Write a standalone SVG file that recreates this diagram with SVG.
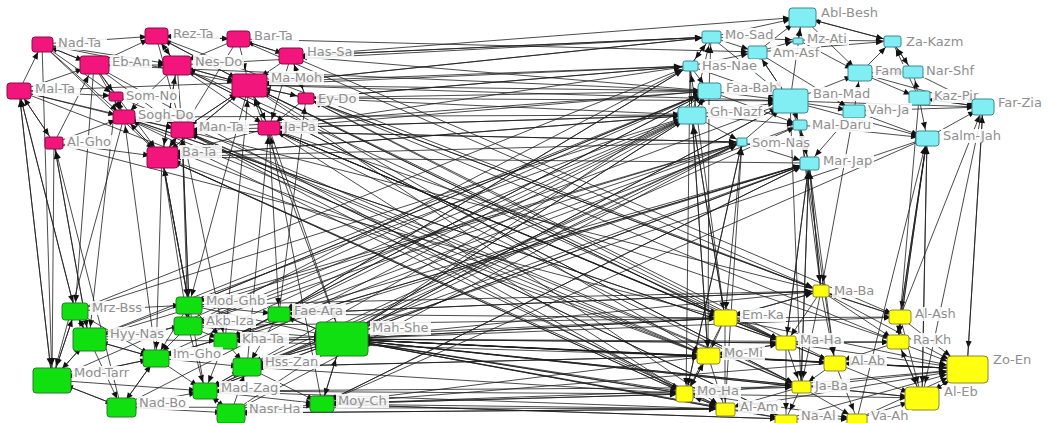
<svg xmlns="http://www.w3.org/2000/svg" width="1051" height="423" viewBox="0 0 1051 423">
<style>
.e line{stroke:#1e1e1e;stroke-width:0.8;fill:none}
.T{marker-end:url(#mT)}.S{marker-end:url(#mS)}.M{marker-end:url(#mM)}.B{marker-end:url(#mB)}.H{marker-end:url(#mH)}
.lb{fill:#fff;fill-opacity:0.88}
.lt{font-family:"DejaVu Sans",Verdana,sans-serif;font-size:13px;fill:#8f8f8f}
.pk{fill:#f2157c;stroke:#8c0c45;stroke-width:1}
.cy{fill:#80eef2;stroke:#3a8890;stroke-width:1}
.gr{fill:#10e010;stroke:#2a7a2a;stroke-width:1}
.ye{fill:#ffff10;stroke:#8a8a2a;stroke-width:1}
</style>
<defs>
<marker id="mT" markerUnits="userSpaceOnUse" markerWidth="7" markerHeight="6" refX="13" refY="3" orient="auto" overflow="visible"><path d="M0,0 L7,3 L0,6 z" fill="#111"/></marker>
<marker id="mS" markerUnits="userSpaceOnUse" markerWidth="7" markerHeight="6" refX="16" refY="3" orient="auto" overflow="visible"><path d="M0,0 L7,3 L0,6 z" fill="#111"/></marker>
<marker id="mM" markerUnits="userSpaceOnUse" markerWidth="7" markerHeight="6" refX="19" refY="3" orient="auto" overflow="visible"><path d="M0,0 L7,3 L0,6 z" fill="#111"/></marker>
<marker id="mB" markerUnits="userSpaceOnUse" markerWidth="7" markerHeight="6" refX="22" refY="3" orient="auto" overflow="visible"><path d="M0,0 L7,3 L0,6 z" fill="#111"/></marker>
<marker id="mH" markerUnits="userSpaceOnUse" markerWidth="7" markerHeight="6" refX="28" refY="3" orient="auto" overflow="visible"><path d="M0,0 L7,3 L0,6 z" fill="#111"/></marker>
</defs>
<rect width="1051" height="423" fill="#fff"/>
<g id="connectors" class="e">
<g class="T">
<line x1="42" y1="44" x2="116" y2="96"/><line x1="19" y1="91" x2="116" y2="96"/><line x1="94" y1="65" x2="116" y2="96"/><line x1="124" y1="117" x2="116" y2="96"/>
<line x1="757" y1="52" x2="798" y2="40"/><line x1="711" y1="37" x2="798" y2="40"/>
<line x1="790" y1="101" x2="800" y2="125"/><line x1="709" y1="91" x2="800" y2="125"/><line x1="692" y1="115" x2="800" y2="125"/>
<line x1="692" y1="115" x2="742" y2="142"/><line x1="182" y1="130" x2="742" y2="142"/><line x1="162" y1="157" x2="742" y2="142"/>
<line x1="342" y1="339" x2="742" y2="142"/><line x1="247" y1="367" x2="742" y2="142"/><line x1="231" y1="413" x2="742" y2="142"/>
<line x1="686" y1="394" x2="742" y2="142"/><line x1="725" y1="409" x2="742" y2="142"/><line x1="205" y1="391" x2="800" y2="125"/><line x1="835" y1="363" x2="800" y2="125"/>
<line x1="89" y1="339" x2="742" y2="142"/><line x1="189" y1="305" x2="742" y2="142"/>
</g>
<g class="M">
<line x1="42" y1="44" x2="94" y2="65"/><line x1="19" y1="91" x2="94" y2="65"/><line x1="54" y1="143" x2="94" y2="65"/>
<line x1="42" y1="44" x2="177" y2="65"/><line x1="94" y1="65" x2="177" y2="65"/><line x1="156" y1="36" x2="177" y2="65"/><line x1="238" y1="39" x2="177" y2="65"/><line x1="249" y1="85" x2="177" y2="65"/><line x1="162" y1="157" x2="177" y2="65"/>
<line x1="42" y1="44" x2="162" y2="157"/><line x1="94" y1="65" x2="162" y2="157"/><line x1="177" y1="65" x2="162" y2="157"/><line x1="249" y1="85" x2="162" y2="157"/><line x1="124" y1="117" x2="162" y2="157"/><line x1="182" y1="130" x2="162" y2="157"/><line x1="269" y1="128" x2="162" y2="157"/><line x1="54" y1="143" x2="162" y2="157"/>
<line x1="692" y1="115" x2="162" y2="157"/><line x1="686" y1="394" x2="162" y2="157"/><line x1="189" y1="305" x2="162" y2="157"/><line x1="205" y1="391" x2="162" y2="157"/><line x1="809" y1="163" x2="162" y2="157"/>
<line x1="708" y1="356" x2="162" y2="157"/><line x1="801" y1="387" x2="177" y2="65"/>
<line x1="711" y1="37" x2="802" y2="17"/><line x1="757" y1="52" x2="802" y2="17"/><line x1="798" y1="40" x2="802" y2="17"/><line x1="892" y1="41" x2="802" y2="17"/><line x1="790" y1="101" x2="802" y2="17"/><line x1="291" y1="56" x2="802" y2="17"/>
<line x1="690" y1="66" x2="692" y2="115"/><line x1="709" y1="91" x2="692" y2="115"/><line x1="269" y1="128" x2="692" y2="115"/><line x1="306" y1="98" x2="692" y2="115"/><line x1="162" y1="157" x2="692" y2="115"/><line x1="124" y1="117" x2="692" y2="115"/>
<line x1="342" y1="339" x2="692" y2="115"/><line x1="279" y1="314" x2="692" y2="115"/><line x1="188" y1="326" x2="692" y2="115"/><line x1="156" y1="358" x2="692" y2="115"/><line x1="725" y1="318" x2="692" y2="115"/><line x1="708" y1="356" x2="692" y2="115"/>
<line x1="75" y1="311" x2="692" y2="115"/><line x1="121" y1="407" x2="692" y2="115"/>
<line x1="75" y1="311" x2="89" y2="339"/><line x1="52" y1="380" x2="89" y2="339"/><line x1="156" y1="358" x2="89" y2="339"/><line x1="54" y1="143" x2="89" y2="339"/><line x1="116" y1="96" x2="89" y2="339"/><line x1="692" y1="115" x2="89" y2="339"/>
</g>
<g class="B">
<line x1="42" y1="44" x2="249" y2="85"/><line x1="156" y1="36" x2="249" y2="85"/><line x1="238" y1="39" x2="249" y2="85"/><line x1="291" y1="56" x2="249" y2="85"/><line x1="177" y1="65" x2="249" y2="85"/><line x1="306" y1="98" x2="249" y2="85"/><line x1="182" y1="130" x2="249" y2="85"/><line x1="269" y1="128" x2="249" y2="85"/><line x1="162" y1="157" x2="249" y2="85"/>
<line x1="711" y1="37" x2="249" y2="85"/><line x1="690" y1="66" x2="249" y2="85"/><line x1="786" y1="343" x2="249" y2="85"/><line x1="225" y1="341" x2="249" y2="85"/><line x1="342" y1="339" x2="249" y2="85"/><line x1="725" y1="318" x2="249" y2="85"/>
<line x1="709" y1="91" x2="790" y2="101"/><line x1="757" y1="52" x2="790" y2="101"/><line x1="692" y1="115" x2="790" y2="101"/><line x1="690" y1="66" x2="790" y2="101"/><line x1="711" y1="37" x2="790" y2="101"/><line x1="742" y1="142" x2="790" y2="101"/>
<line x1="249" y1="85" x2="790" y2="101"/><line x1="306" y1="98" x2="790" y2="101"/><line x1="342" y1="339" x2="790" y2="101"/>
<line x1="75" y1="311" x2="52" y2="380"/><line x1="89" y1="339" x2="52" y2="380"/><line x1="156" y1="358" x2="52" y2="380"/><line x1="121" y1="407" x2="52" y2="380"/>
<line x1="19" y1="91" x2="52" y2="380"/><line x1="54" y1="143" x2="52" y2="380"/><line x1="124" y1="117" x2="52" y2="380"/><line x1="42" y1="44" x2="52" y2="380"/>
<line x1="900" y1="317" x2="922" y2="398"/><line x1="898" y1="342" x2="922" y2="398"/><line x1="835" y1="363" x2="922" y2="398"/><line x1="857" y1="419" x2="922" y2="398"/><line x1="967" y1="369" x2="922" y2="398"/><line x1="686" y1="394" x2="922" y2="398"/>
<line x1="983" y1="107" x2="922" y2="398"/><line x1="927" y1="138" x2="922" y2="398"/><line x1="342" y1="339" x2="922" y2="398"/>
</g>
<g class="H">
<line x1="279" y1="314" x2="342" y2="339"/><line x1="188" y1="326" x2="342" y2="339"/><line x1="225" y1="341" x2="342" y2="339"/><line x1="247" y1="367" x2="342" y2="339"/><line x1="322" y1="404" x2="342" y2="339"/><line x1="189" y1="305" x2="342" y2="339"/><line x1="205" y1="391" x2="342" y2="339"/><line x1="231" y1="413" x2="342" y2="339"/>
<line x1="692" y1="115" x2="342" y2="339"/><line x1="790" y1="101" x2="342" y2="339"/><line x1="725" y1="318" x2="342" y2="339"/><line x1="708" y1="356" x2="342" y2="339"/><line x1="686" y1="394" x2="342" y2="339"/><line x1="725" y1="409" x2="342" y2="339"/>
<line x1="786" y1="343" x2="342" y2="339"/><line x1="967" y1="369" x2="342" y2="339"/><line x1="801" y1="387" x2="342" y2="339"/><line x1="922" y1="398" x2="342" y2="339"/><line x1="835" y1="363" x2="342" y2="339"/><line x1="269" y1="128" x2="342" y2="339"/>
<line x1="900" y1="317" x2="967" y2="369"/><line x1="898" y1="342" x2="967" y2="369"/><line x1="708" y1="356" x2="967" y2="369"/><line x1="835" y1="363" x2="967" y2="369"/><line x1="801" y1="387" x2="967" y2="369"/><line x1="686" y1="394" x2="967" y2="369"/>
<line x1="922" y1="398" x2="967" y2="369"/><line x1="725" y1="409" x2="967" y2="369"/><line x1="786" y1="419" x2="967" y2="369"/><line x1="857" y1="419" x2="967" y2="369"/><line x1="725" y1="318" x2="967" y2="369"/><line x1="786" y1="343" x2="967" y2="369"/>
<line x1="342" y1="339" x2="967" y2="369"/><line x1="983" y1="107" x2="967" y2="369"/><line x1="821" y1="291" x2="967" y2="369"/>
</g>
<g class="S">
<line x1="42" y1="44" x2="156" y2="36"/><line x1="42" y1="44" x2="124" y2="117"/><line x1="19" y1="91" x2="42" y2="44"/><line x1="19" y1="91" x2="124" y2="117"/><line x1="19" y1="91" x2="54" y2="143"/><line x1="19" y1="91" x2="182" y2="130"/>
<line x1="94" y1="65" x2="42" y2="44"/><line x1="94" y1="65" x2="156" y2="36"/><line x1="94" y1="65" x2="124" y2="117"/><line x1="94" y1="65" x2="182" y2="130"/>
<line x1="156" y1="36" x2="238" y2="39"/><line x1="156" y1="36" x2="182" y2="130"/><line x1="177" y1="65" x2="156" y2="36"/><line x1="238" y1="39" x2="156" y2="36"/><line x1="238" y1="39" x2="291" y2="56"/><line x1="238" y1="39" x2="182" y2="130"/>
<line x1="291" y1="56" x2="306" y2="98"/><line x1="291" y1="56" x2="238" y2="39"/><line x1="291" y1="56" x2="269" y2="128"/>
<line x1="177" y1="65" x2="124" y2="117"/><line x1="177" y1="65" x2="182" y2="130"/><line x1="177" y1="65" x2="269" y2="128"/>
<line x1="249" y1="85" x2="306" y2="98"/><line x1="249" y1="85" x2="269" y2="128"/><line x1="249" y1="85" x2="182" y2="130"/><line x1="249" y1="85" x2="156" y2="36"/>
<line x1="306" y1="98" x2="291" y2="56"/><line x1="306" y1="98" x2="269" y2="128"/><line x1="116" y1="96" x2="124" y2="117"/><line x1="124" y1="117" x2="182" y2="130"/><line x1="269" y1="128" x2="182" y2="130"/>
<line x1="54" y1="143" x2="19" y2="91"/><line x1="54" y1="143" x2="124" y2="117"/><line x1="162" y1="157" x2="182" y2="130"/><line x1="162" y1="157" x2="124" y2="117"/>
<line x1="690" y1="66" x2="711" y2="37"/><line x1="709" y1="91" x2="711" y2="37"/><line x1="692" y1="115" x2="711" y2="37"/><line x1="711" y1="37" x2="757" y2="52"/><line x1="711" y1="37" x2="690" y2="66"/>
<line x1="798" y1="40" x2="892" y2="41"/><line x1="757" y1="52" x2="892" y2="41"/><line x1="860" y1="73" x2="892" y2="41"/><line x1="913" y1="72" x2="892" y2="41"/><line x1="919" y1="98" x2="892" y2="41"/><line x1="802" y1="17" x2="892" y2="41"/><line x1="892" y1="41" x2="913" y2="72"/>
<line x1="690" y1="66" x2="709" y2="91"/><line x1="690" y1="66" x2="757" y2="52"/><line x1="692" y1="115" x2="709" y2="91"/>
<line x1="790" y1="101" x2="757" y2="52"/><line x1="790" y1="101" x2="860" y2="73"/><line x1="790" y1="101" x2="854" y2="111"/><line x1="790" y1="101" x2="809" y2="163"/><line x1="790" y1="101" x2="983" y2="107"/><line x1="790" y1="101" x2="927" y2="138"/>
<line x1="860" y1="73" x2="913" y2="72"/><line x1="860" y1="73" x2="983" y2="107"/><line x1="860" y1="73" x2="919" y2="98"/><line x1="854" y1="111" x2="860" y2="73"/><line x1="798" y1="40" x2="860" y2="73"/><line x1="802" y1="17" x2="860" y2="73"/>
<line x1="919" y1="98" x2="913" y2="72"/><line x1="919" y1="98" x2="983" y2="107"/><line x1="983" y1="107" x2="919" y2="98"/><line x1="854" y1="111" x2="983" y2="107"/><line x1="927" y1="138" x2="983" y2="107"/><line x1="913" y1="72" x2="983" y2="107"/>
<line x1="854" y1="111" x2="927" y2="138"/><line x1="919" y1="98" x2="927" y2="138"/><line x1="800" y1="125" x2="927" y2="138"/><line x1="742" y1="142" x2="809" y2="163"/><line x1="800" y1="125" x2="809" y2="163"/><line x1="854" y1="111" x2="809" y2="163"/><line x1="757" y1="52" x2="854" y2="111"/>
<line x1="75" y1="311" x2="189" y2="305"/><line x1="89" y1="339" x2="75" y2="311"/><line x1="52" y1="380" x2="75" y2="311"/><line x1="189" y1="305" x2="279" y2="314"/><line x1="189" y1="305" x2="188" y2="326"/><line x1="188" y1="326" x2="189" y2="305"/><line x1="189" y1="305" x2="225" y2="341"/>
<line x1="342" y1="339" x2="279" y2="314"/><line x1="279" y1="314" x2="225" y2="341"/><line x1="279" y1="314" x2="247" y2="367"/><line x1="188" y1="326" x2="225" y2="341"/><line x1="188" y1="326" x2="156" y2="358"/>
<line x1="89" y1="339" x2="188" y2="326"/><line x1="89" y1="339" x2="156" y2="358"/><line x1="89" y1="339" x2="225" y2="341"/><line x1="342" y1="339" x2="225" y2="341"/><line x1="225" y1="341" x2="247" y2="367"/><line x1="342" y1="339" x2="247" y2="367"/>
<line x1="342" y1="339" x2="322" y2="404"/><line x1="247" y1="367" x2="322" y2="404"/><line x1="231" y1="413" x2="322" y2="404"/><line x1="205" y1="391" x2="322" y2="404"/><line x1="156" y1="358" x2="247" y2="367"/><line x1="156" y1="358" x2="205" y2="391"/>
<line x1="156" y1="358" x2="121" y2="407"/><line x1="121" y1="407" x2="156" y2="358"/><line x1="52" y1="380" x2="121" y2="407"/><line x1="52" y1="380" x2="156" y2="358"/><line x1="205" y1="391" x2="231" y2="413"/><line x1="231" y1="413" x2="205" y2="391"/>
<line x1="205" y1="391" x2="247" y2="367"/><line x1="247" y1="367" x2="205" y2="391"/><line x1="225" y1="341" x2="205" y2="391"/><line x1="121" y1="407" x2="231" y2="413"/><line x1="121" y1="407" x2="205" y2="391"/><line x1="231" y1="413" x2="247" y2="367"/>
<line x1="188" y1="326" x2="205" y2="391"/><line x1="189" y1="305" x2="156" y2="358"/><line x1="75" y1="311" x2="156" y2="358"/><line x1="89" y1="339" x2="121" y2="407"/><line x1="52" y1="380" x2="205" y2="391"/>
<line x1="821" y1="291" x2="725" y2="318"/><line x1="725" y1="318" x2="821" y2="291"/><line x1="821" y1="291" x2="786" y2="343"/><line x1="821" y1="291" x2="900" y2="317"/><line x1="900" y1="317" x2="821" y2="291"/><line x1="821" y1="291" x2="835" y2="363"/><line x1="821" y1="291" x2="801" y2="387"/><line x1="821" y1="291" x2="898" y2="342"/>
<line x1="725" y1="318" x2="708" y2="356"/><line x1="725" y1="318" x2="786" y2="343"/><line x1="725" y1="318" x2="900" y2="317"/><line x1="725" y1="318" x2="686" y2="394"/><line x1="725" y1="318" x2="725" y2="409"/>
<line x1="900" y1="317" x2="898" y2="342"/><line x1="898" y1="342" x2="900" y2="317"/><line x1="922" y1="398" x2="898" y2="342"/><line x1="898" y1="342" x2="835" y2="363"/>
<line x1="786" y1="343" x2="708" y2="356"/><line x1="786" y1="343" x2="835" y2="363"/><line x1="786" y1="343" x2="801" y2="387"/><line x1="786" y1="343" x2="898" y2="342"/><line x1="786" y1="343" x2="786" y2="419"/>
<line x1="708" y1="356" x2="686" y2="394"/><line x1="708" y1="356" x2="786" y2="343"/><line x1="708" y1="356" x2="835" y2="363"/><line x1="708" y1="356" x2="725" y2="409"/><line x1="967" y1="369" x2="835" y2="363"/>
<line x1="835" y1="363" x2="801" y2="387"/><line x1="835" y1="363" x2="857" y2="419"/><line x1="801" y1="387" x2="786" y2="419"/><line x1="801" y1="387" x2="857" y2="419"/><line x1="801" y1="387" x2="725" y2="409"/>
<line x1="686" y1="394" x2="725" y2="409"/><line x1="725" y1="409" x2="686" y2="394"/><line x1="725" y1="409" x2="786" y2="419"/><line x1="786" y1="419" x2="857" y2="419"/><line x1="686" y1="394" x2="708" y2="356"/>
<line x1="306" y1="98" x2="690" y2="66"/><line x1="249" y1="85" x2="711" y2="37"/><line x1="291" y1="56" x2="711" y2="37"/><line x1="249" y1="85" x2="709" y2="91"/><line x1="269" y1="128" x2="690" y2="66"/><line x1="238" y1="39" x2="757" y2="52"/>
<line x1="177" y1="65" x2="711" y2="37"/><line x1="269" y1="128" x2="709" y2="91"/><line x1="182" y1="130" x2="709" y2="91"/><line x1="94" y1="65" x2="709" y2="91"/><line x1="19" y1="91" x2="690" y2="66"/>
<line x1="690" y1="66" x2="306" y2="98"/><line x1="692" y1="115" x2="269" y2="128"/><line x1="709" y1="91" x2="291" y2="56"/><line x1="742" y1="142" x2="182" y2="130"/><line x1="711" y1="37" x2="291" y2="56"/><line x1="709" y1="91" x2="306" y2="98"/>
<line x1="19" y1="91" x2="75" y2="311"/><line x1="162" y1="157" x2="189" y2="305"/><line x1="162" y1="157" x2="188" y2="326"/><line x1="162" y1="157" x2="156" y2="358"/><line x1="182" y1="130" x2="189" y2="305"/><line x1="182" y1="130" x2="225" y2="341"/>
<line x1="249" y1="85" x2="189" y2="305"/><line x1="269" y1="128" x2="279" y2="314"/><line x1="94" y1="65" x2="75" y2="311"/>
<line x1="52" y1="380" x2="19" y2="91"/><line x1="75" y1="311" x2="19" y2="91"/><line x1="89" y1="339" x2="54" y2="143"/><line x1="188" y1="326" x2="182" y2="130"/><line x1="189" y1="305" x2="182" y2="130"/><line x1="156" y1="358" x2="124" y2="117"/>
<line x1="121" y1="407" x2="54" y2="143"/><line x1="247" y1="367" x2="269" y2="128"/><line x1="279" y1="314" x2="306" y2="98"/><line x1="322" y1="404" x2="269" y2="128"/>
<line x1="306" y1="98" x2="821" y2="291"/><line x1="269" y1="128" x2="725" y2="318"/><line x1="249" y1="85" x2="708" y2="356"/><line x1="291" y1="56" x2="900" y2="317"/><line x1="269" y1="128" x2="786" y2="343"/><line x1="182" y1="130" x2="686" y2="394"/>
<line x1="162" y1="157" x2="725" y2="409"/><line x1="306" y1="98" x2="898" y2="342"/><line x1="124" y1="117" x2="708" y2="356"/><line x1="182" y1="130" x2="786" y2="419"/><line x1="177" y1="65" x2="801" y2="387"/><line x1="269" y1="128" x2="835" y2="363"/>
<line x1="238" y1="39" x2="821" y2="291"/><line x1="249" y1="85" x2="725" y2="318"/><line x1="162" y1="157" x2="686" y2="394"/>
<line x1="54" y1="143" x2="725" y2="318"/><line x1="19" y1="91" x2="708" y2="356"/><line x1="124" y1="117" x2="786" y2="343"/><line x1="116" y1="96" x2="801" y2="387"/><line x1="94" y1="65" x2="686" y2="394"/><line x1="156" y1="36" x2="821" y2="291"/>
<line x1="177" y1="65" x2="786" y2="343"/><line x1="182" y1="130" x2="801" y2="387"/><line x1="269" y1="128" x2="686" y2="394"/><line x1="306" y1="98" x2="786" y2="343"/><line x1="249" y1="85" x2="725" y2="409"/>
<line x1="725" y1="318" x2="269" y2="128"/><line x1="708" y1="356" x2="182" y2="130"/><line x1="821" y1="291" x2="306" y2="98"/><line x1="725" y1="409" x2="124" y2="117"/><line x1="801" y1="387" x2="269" y2="128"/><line x1="835" y1="363" x2="306" y2="98"/>
<line x1="898" y1="342" x2="269" y2="128"/><line x1="786" y1="419" x2="182" y2="130"/><line x1="821" y1="291" x2="182" y2="130"/><line x1="786" y1="343" x2="124" y2="117"/>
<line x1="279" y1="314" x2="690" y2="66"/><line x1="189" y1="305" x2="709" y2="91"/><line x1="225" y1="341" x2="809" y2="163"/><line x1="322" y1="404" x2="809" y2="163"/><line x1="75" y1="311" x2="690" y2="66"/><line x1="89" y1="339" x2="709" y2="91"/>
<line x1="279" y1="314" x2="809" y2="163"/><line x1="342" y1="339" x2="809" y2="163"/><line x1="342" y1="339" x2="709" y2="91"/>
<line x1="156" y1="358" x2="809" y2="163"/><line x1="205" y1="391" x2="809" y2="163"/><line x1="225" y1="341" x2="709" y2="91"/><line x1="247" y1="367" x2="809" y2="163"/><line x1="52" y1="380" x2="709" y2="91"/><line x1="188" y1="326" x2="690" y2="66"/>
<line x1="742" y1="142" x2="279" y2="314"/><line x1="709" y1="91" x2="189" y2="305"/><line x1="690" y1="66" x2="279" y2="314"/><line x1="809" y1="163" x2="322" y2="404"/><line x1="800" y1="125" x2="225" y2="341"/><line x1="692" y1="115" x2="247" y2="367"/>
<line x1="927" y1="138" x2="322" y2="404"/><line x1="742" y1="142" x2="188" y2="326"/>
<line x1="809" y1="163" x2="156" y2="358"/><line x1="742" y1="142" x2="205" y2="391"/><line x1="709" y1="91" x2="225" y2="341"/><line x1="927" y1="138" x2="247" y2="367"/><line x1="790" y1="101" x2="188" y2="326"/>
<line x1="342" y1="339" x2="725" y2="318"/><line x1="342" y1="339" x2="708" y2="356"/><line x1="342" y1="339" x2="686" y2="394"/><line x1="342" y1="339" x2="725" y2="409"/><line x1="342" y1="339" x2="786" y2="343"/><line x1="342" y1="339" x2="835" y2="363"/>
<line x1="342" y1="339" x2="801" y2="387"/><line x1="342" y1="339" x2="786" y2="419"/><line x1="342" y1="339" x2="821" y2="291"/><line x1="342" y1="339" x2="857" y2="419"/><line x1="342" y1="339" x2="898" y2="342"/><line x1="342" y1="339" x2="900" y2="317"/>
<line x1="322" y1="404" x2="686" y2="394"/><line x1="322" y1="404" x2="725" y2="409"/><line x1="322" y1="404" x2="708" y2="356"/><line x1="322" y1="404" x2="786" y2="419"/><line x1="322" y1="404" x2="801" y2="387"/>
<line x1="247" y1="367" x2="708" y2="356"/><line x1="247" y1="367" x2="686" y2="394"/><line x1="279" y1="314" x2="725" y2="318"/><line x1="279" y1="314" x2="821" y2="291"/><line x1="225" y1="341" x2="708" y2="356"/>
<line x1="231" y1="413" x2="725" y2="409"/><line x1="205" y1="391" x2="686" y2="394"/><line x1="205" y1="391" x2="725" y2="409"/><line x1="188" y1="326" x2="725" y2="318"/><line x1="189" y1="305" x2="821" y2="291"/><line x1="121" y1="407" x2="725" y2="409"/>
<line x1="686" y1="394" x2="322" y2="404"/><line x1="725" y1="409" x2="231" y2="413"/><line x1="708" y1="356" x2="247" y2="367"/><line x1="821" y1="291" x2="279" y2="314"/><line x1="725" y1="318" x2="225" y2="341"/><line x1="786" y1="419" x2="322" y2="404"/>
<line x1="801" y1="387" x2="205" y2="391"/><line x1="835" y1="363" x2="322" y2="404"/>
<line x1="692" y1="115" x2="725" y2="318"/><line x1="692" y1="115" x2="708" y2="356"/><line x1="742" y1="142" x2="725" y2="318"/><line x1="742" y1="142" x2="686" y2="394"/><line x1="809" y1="163" x2="821" y2="291"/><line x1="809" y1="163" x2="786" y2="343"/>
<line x1="809" y1="163" x2="835" y2="363"/><line x1="800" y1="125" x2="821" y2="291"/><line x1="927" y1="138" x2="900" y2="317"/><line x1="927" y1="138" x2="898" y2="342"/><line x1="919" y1="98" x2="898" y2="342"/><line x1="854" y1="111" x2="821" y2="291"/>
<line x1="790" y1="101" x2="801" y2="387"/><line x1="709" y1="91" x2="708" y2="356"/><line x1="690" y1="66" x2="686" y2="394"/><line x1="809" y1="163" x2="801" y2="387"/>
<line x1="821" y1="291" x2="809" y2="163"/><line x1="900" y1="317" x2="927" y2="138"/><line x1="786" y1="343" x2="809" y2="163"/><line x1="898" y1="342" x2="927" y2="138"/><line x1="967" y1="369" x2="983" y2="107"/><line x1="922" y1="398" x2="927" y2="138"/>
<line x1="801" y1="387" x2="809" y2="163"/><line x1="857" y1="419" x2="927" y2="138"/><line x1="900" y1="317" x2="983" y2="107"/><line x1="725" y1="318" x2="690" y2="66"/>
</g>
</g>
<g id="n-nad-ta"><rect class="lb" x="56" y="36" width="51" height="14"/><text class="lt" x="58" y="47">Nad-Ta</text><rect class="pk" x="32" y="37" width="21" height="15" rx="3"/></g>
<g id="n-rez-ta"><rect class="lb" x="171" y="27" width="49" height="14"/><text class="lt" x="173" y="38">Rez-Ta</text><rect class="pk" x="145" y="28" width="23" height="16" rx="3"/></g>
<g id="n-bar-ta"><rect class="lb" x="252" y="29" width="47" height="14"/><text class="lt" x="254" y="40">Bar-Ta</text><rect class="pk" x="227" y="31" width="23" height="16" rx="3"/></g>
<g id="n-has-sa"><rect class="lb" x="305" y="45" width="49" height="14"/><text class="lt" x="307" y="56">Has-Sa</text><rect class="pk" x="279" y="48" width="24" height="16" rx="3"/></g>
<g id="n-eb-an"><rect class="lb" x="110" y="55" width="42" height="14"/><text class="lt" x="112" y="66">Eb-An</text><rect class="pk" x="80" y="56" width="29" height="18" rx="3"/></g>
<g id="n-nes-do"><rect class="lb" x="193" y="55" width="51" height="14"/><text class="lt" x="195" y="66">Nes-Do</text><rect class="pk" x="163" y="56" width="28" height="19" rx="3"/></g>
<g id="n-ma-moh"><rect class="lb" x="269" y="71" width="55" height="14"/><text class="lt" x="271" y="82">Ma-Moh</text><rect class="pk" x="232" y="74" width="35" height="23" rx="3"/></g>
<g id="n-mal-ta"><rect class="lb" x="33" y="82" width="47" height="14"/><text class="lt" x="35" y="93">Mal-Ta</text><rect class="pk" x="7" y="83" width="24" height="16" rx="3"/></g>
<g id="n-som-no"><rect class="lb" x="124" y="89" width="55" height="14"/><text class="lt" x="126" y="100">Som-No</text><rect class="pk" x="109" y="92" width="14" height="9" rx="2"/></g>
<g id="n-ey-do"><rect class="lb" x="316" y="92" width="43" height="14"/><text class="lt" x="318" y="103">Ey-Do</text><rect class="pk" x="298" y="93" width="16" height="11" rx="2"/></g>
<g id="n-sogh-do"><rect class="lb" x="136" y="108" width="59" height="14"/><text class="lt" x="138" y="119">Sogh-Do</text><rect class="pk" x="113" y="110" width="22" height="14" rx="3"/></g>
<g id="n-man-ta"><rect class="lb" x="197" y="120" width="52" height="14"/><text class="lt" x="199" y="131">Man-Ta</text><rect class="pk" x="171" y="122" width="23" height="16" rx="3"/></g>
<g id="n-ja-pa"><rect class="lb" x="282" y="120" width="36" height="14"/><text class="lt" x="284" y="131">Ja-Pa</text><rect class="pk" x="258" y="121" width="22" height="14" rx="3"/></g>
<g id="n-al-gho"><rect class="lb" x="65" y="135" width="48" height="14"/><text class="lt" x="67" y="146">Al-Gho</text><rect class="pk" x="45" y="137" width="18" height="12" rx="2"/></g>
<g id="n-ba-ta"><rect class="lb" x="180" y="145" width="42" height="14"/><text class="lt" x="182" y="156">Ba-Ta</text><rect class="pk" x="147" y="147" width="31" height="21" rx="3"/></g>
<g id="n-abl-besh"><rect class="lb" x="819" y="6" width="61" height="14"/><text class="lt" x="821" y="17">Abl-Besh</text><rect class="cy" x="789" y="8" width="27" height="19" rx="3"/></g>
<g id="n-mo-sad"><rect class="lb" x="723" y="28" width="52" height="14"/><text class="lt" x="725" y="39">Mo-Sad</text><rect class="cy" x="702" y="31" width="19" height="12" rx="2"/></g>
<g id="n-mz-ati"><rect class="lb" x="805" y="32" width="44" height="13"/><text class="lt" x="807" y="43">Mz-Ati</text><rect class="cy" x="793" y="38" width="10" height="6" rx="1"/></g>
<g id="n-za-kazm"><rect class="lb" x="904" y="35" width="62" height="14"/><text class="lt" x="906" y="46">Za-Kazm</text><rect class="cy" x="884" y="36" width="17" height="11" rx="2"/></g>
<g id="n-am-asf"><rect class="lb" x="771" y="46" width="50" height="14"/><text class="lt" x="773" y="57">Am-Asf</text><rect class="cy" x="748" y="46" width="19" height="13" rx="2"/></g>
<g id="n-has-nae"><rect class="lb" x="700" y="59" width="59" height="14"/><text class="lt" x="702" y="70">Has-Nae</text><rect class="cy" x="683" y="61" width="15" height="10" rx="2"/></g>
<g id="n-fam"><rect class="lb" x="873" y="64" width="32" height="14"/><text class="lt" x="875" y="75">Fam</text><rect class="cy" x="848" y="65" width="24" height="16" rx="3"/></g>
<g id="n-nar-shf"><rect class="lb" x="924" y="64" width="53" height="14"/><text class="lt" x="926" y="75">Nar-Shf</text><rect class="cy" x="903" y="66" width="20" height="12" rx="2"/></g>
<g id="n-faa-bah"><rect class="lb" x="724" y="81" width="57" height="14"/><text class="lt" x="726" y="92">Faa-Bah</text><rect class="cy" x="698" y="83" width="23" height="16" rx="3"/></g>
<g id="n-ban-mad"><rect class="lb" x="811" y="87" width="61" height="14"/><text class="lt" x="813" y="98">Ban-Mad</text><rect class="cy" x="773" y="89" width="35" height="24" rx="3"/></g>
<g id="n-kaz-pir"><rect class="lb" x="932" y="89" width="49" height="14"/><text class="lt" x="934" y="100">Kaz-Pir</text><rect class="cy" x="909" y="91" width="21" height="14" rx="2"/></g>
<g id="n-far-zia"><rect class="lb" x="996" y="96" width="50" height="14"/><text class="lt" x="998" y="107">Far-Zia</text><rect class="cy" x="972" y="99" width="22" height="16" rx="3"/></g>
<g id="n-gh-nazf"><rect class="lb" x="708" y="105" width="56" height="14"/><text class="lt" x="710" y="116">Gh-Nazf</text><rect class="cy" x="678" y="107" width="28" height="17" rx="3"/></g>
<g id="n-vah-ja"><rect class="lb" x="866" y="103" width="46" height="14"/><text class="lt" x="868" y="114">Vah-Ja</text><rect class="cy" x="843" y="105" width="22" height="13" rx="2"/></g>
<g id="n-mal-daru"><rect class="lb" x="810" y="118" width="63" height="14"/><text class="lt" x="812" y="129">Mal-Daru</text><rect class="cy" x="793" y="120" width="14" height="10" rx="2"/></g>
<g id="n-salm-jah"><rect class="lb" x="941" y="129" width="61" height="14"/><text class="lt" x="943" y="140">Salm-Jah</text><rect class="cy" x="916" y="131" width="23" height="15" rx="3"/></g>
<g id="n-som-nas"><rect class="lb" x="750" y="136" width="62" height="14"/><text class="lt" x="752" y="147">Som-Nas</text><rect class="cy" x="737" y="138" width="10" height="8" rx="1"/></g>
<g id="n-mar-jap"><rect class="lb" x="821" y="154" width="53" height="14"/><text class="lt" x="823" y="165">Mar-Jap</text><rect class="cy" x="800" y="157" width="19" height="13" rx="2"/></g>
<g id="n-mrz-bss"><rect class="lb" x="90" y="301" width="55" height="14"/><text class="lt" x="92" y="312">Mrz-Bss</text><rect class="gr" x="62" y="303" width="26" height="17" rx="3"/></g>
<g id="n-mod-ghb"><rect class="lb" x="204" y="294" width="63" height="14"/><text class="lt" x="206" y="305">Mod-Ghb</text><rect class="gr" x="176" y="297" width="26" height="17" rx="3"/></g>
<g id="n-fae-ara"><rect class="lb" x="292" y="304" width="54" height="14"/><text class="lt" x="294" y="315">Fae-Ara</text><rect class="gr" x="268" y="307" width="22" height="15" rx="3"/></g>
<g id="n-akb-iza"><rect class="lb" x="204" y="314" width="52" height="14"/><text class="lt" x="206" y="325">Akb-Iza</text><rect class="gr" x="174" y="317" width="28" height="18" rx="3"/></g>
<g id="n-hyy-nas"><rect class="lb" x="108" y="327" width="58" height="14"/><text class="lt" x="110" y="338">Hyy-Nas</text><rect class="gr" x="73" y="328" width="33" height="23" rx="3"/></g>
<g id="n-mah-she"><rect class="lb" x="370" y="321" width="61" height="14"/><text class="lt" x="372" y="332">Mah-She</text><rect class="gr" x="316" y="322" width="52" height="34" rx="4"/></g>
<g id="n-kha-ta"><rect class="lb" x="240" y="332" width="49" height="14"/><text class="lt" x="242" y="343">Kha-Ta</text><rect class="gr" x="214" y="333" width="23" height="16" rx="3"/></g>
<g id="n-im-gho"><rect class="lb" x="171" y="347" width="52" height="14"/><text class="lt" x="173" y="358">Im-Gho</text><rect class="gr" x="143" y="350" width="26" height="17" rx="3"/></g>
<g id="n-hss-zan"><rect class="lb" x="263" y="355" width="57" height="14"/><text class="lt" x="265" y="366">Hss-Zan</text><rect class="gr" x="233" y="358" width="28" height="18" rx="3"/></g>
<g id="n-mod-tarr"><rect class="lb" x="72" y="366" width="63" height="14"/><text class="lt" x="74" y="377">Mod-Tarr</text><rect class="gr" x="33" y="368" width="38" height="25" rx="3"/></g>
<g id="n-mad-zag"><rect class="lb" x="219" y="381" width="61" height="14"/><text class="lt" x="221" y="392">Mad-Zag</text><rect class="gr" x="193" y="383" width="24" height="16" rx="3"/></g>
<g id="n-nad-bo"><rect class="lb" x="137" y="396" width="52" height="14"/><text class="lt" x="139" y="407">Nad-Bo</text><rect class="gr" x="107" y="398" width="29" height="19" rx="3"/></g>
<g id="n-nasr-ha"><rect class="lb" x="247" y="402" width="56" height="14"/><text class="lt" x="249" y="413">Nasr-Ha</text><rect class="gr" x="217" y="404" width="28" height="19" rx="3"/></g>
<g id="n-moy-ch"><rect class="lb" x="336" y="394" width="53" height="14"/><text class="lt" x="338" y="405">Moy-Ch</text><rect class="gr" x="310" y="396" width="24" height="16" rx="3"/></g>
<g id="n-ma-ba"><rect class="lb" x="832" y="284" width="45" height="14"/><text class="lt" x="834" y="295">Ma-Ba</text><rect class="ye" x="813" y="285" width="16" height="12" rx="2"/></g>
<g id="n-em-ka"><rect class="lb" x="740" y="308" width="46" height="14"/><text class="lt" x="742" y="319">Em-Ka</text><rect class="ye" x="714" y="310" width="23" height="16" rx="3"/></g>
<g id="n-al-ash"><rect class="lb" x="913" y="307" width="45" height="14"/><text class="lt" x="915" y="318">Al-Ash</text><rect class="ye" x="889" y="310" width="22" height="14" rx="3"/></g>
<g id="n-ma-ha"><rect class="lb" x="798" y="333" width="46" height="14"/><text class="lt" x="800" y="344">Ma-Ha</text><rect class="ye" x="776" y="336" width="20" height="14" rx="2"/></g>
<g id="n-ra-kh"><rect class="lb" x="911" y="333" width="43" height="14"/><text class="lt" x="913" y="344">Ra-Kh</text><rect class="ye" x="887" y="335" width="22" height="14" rx="3"/></g>
<g id="n-mo-mi"><rect class="lb" x="722" y="346" width="43" height="14"/><text class="lt" x="724" y="357">Mo-Mi</text><rect class="ye" x="697" y="348" width="23" height="16" rx="3"/></g>
<g id="n-al-ab"><rect class="lb" x="849" y="354" width="38" height="14"/><text class="lt" x="851" y="365">Al-Ab</text><rect class="ye" x="824" y="356" width="22" height="15" rx="3"/></g>
<g id="n-zo-en"><rect class="lb" x="991" y="353" width="42" height="14"/><text class="lt" x="993" y="364">Zo-En</text><rect class="ye" x="947" y="356" width="41" height="27" rx="4"/></g>
<g id="n-ja-ba"><rect class="lb" x="813" y="379" width="37" height="14"/><text class="lt" x="815" y="390">Ja-Ba</text><rect class="ye" x="792" y="381" width="19" height="12" rx="2"/></g>
<g id="n-mo-ha"><rect class="lb" x="695" y="384" width="46" height="14"/><text class="lt" x="697" y="395">Mo-Ha</text><rect class="ye" x="676" y="386" width="17" height="16" rx="3"/></g>
<g id="n-al-eb"><rect class="lb" x="942" y="385" width="38" height="14"/><text class="lt" x="944" y="396">Al-Eb</text><rect class="ye" x="905" y="387" width="34" height="23" rx="4"/></g>
<g id="n-al-am"><rect class="lb" x="738" y="400" width="43" height="14"/><text class="lt" x="740" y="411">Al-Am</text><rect class="ye" x="716" y="403" width="19" height="13" rx="2"/></g>
<g id="n-na-al"><rect class="lb" x="799" y="410" width="39" height="13"/><text class="lt" x="801" y="420">Na-Al</text><rect class="ye" x="775" y="415" width="22" height="12" rx="2"/></g>
<g id="n-va-ah"><rect class="lb" x="869" y="410" width="43" height="13"/><text class="lt" x="871" y="420">Va-Ah</text><rect class="ye" x="847" y="414" width="20" height="12" rx="2"/></g>
</svg>
